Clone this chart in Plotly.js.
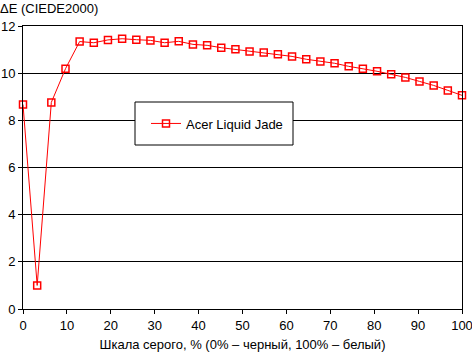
<!DOCTYPE html>
<html>
<head>
<meta charset="utf-8">
<script src="https://cdn.plot.ly/plotly-3.0.1.min.js"></script>
<style>html,body{margin:0;padding:0;background:#fff;}#chart{width:472px;height:352px;}</style>
</head>
<body>
<div id="chart"></div>
<script>
const seriesName = "Acer Liquid Jade";
const grayLevels = [0, 3.23, 6.45, 9.68, 12.9, 16.13, 19.35, 22.58, 25.81, 29.03, 32.26, 35.48, 38.71, 41.94, 45.16, 48.39,
  51.61, 54.84, 58.06, 61.29, 64.52, 67.74, 70.97, 74.19, 77.42, 80.65, 83.87, 87.1, 90.32, 93.55, 96.77, 100];
const deltaE = [8.67, 1.0, 8.76, 10.19, 11.34, 11.29, 11.41, 11.46, 11.42, 11.39, 11.29, 11.35, 11.22, 11.18, 11.08, 11.01,
  10.92, 10.88, 10.80, 10.71, 10.59, 10.50, 10.42, 10.29, 10.19, 10.08, 9.95, 9.82, 9.65, 9.48, 9.27, 9.06];
const xTicks = [0, 10, 20, 30, 40, 50, 60, 70, 80, 90, 100];
const yTicks = [0, 2, 4, 6, 8, 10, 12];

const font = {family: "Liberation Sans, Arial, sans-serif", size: 13, color: "#000"};

// plot area in pixels: x 23..462, y 26..309
const L = 23, R = 10, T = 26, B = 43, W = 472, H = 352;
const pw = W - L - R, ph = H - T - B;
const px = v => (v - L) / pw;
const py = v => (H - B - v) / ph;

Plotly.newPlot("chart", [{
  x: grayLevels, y: deltaE, name: seriesName, type: "scatter", mode: "lines+markers",
  line: {color: "#ff0000", width: 1},
  marker: {symbol: "square-open", size: 7, color: "#ff0000", line: {width: 1.5, color: "#ff0000"}},
  showlegend: true, cliponaxis: false
}], {
  width: W, height: H,
  margin: {l: L, r: R, t: T, b: B, pad: 0},
  paper_bgcolor: "#fff", plot_bgcolor: "#fff",
  font: font,
  title: {text: "ΔE (CIEDE2000)", font: font, xref: "container", yref: "container", x: 0, xanchor: "left", y: 1 - 8/352, yanchor: "middle"},
  xaxis: {
    range: [0, 100], tickvals: xTicks, ticktext: xTicks.map(String), automargin: false,
    ticklabeloverflow: "allow",
    showgrid: false, zeroline: false, showline: true, linecolor: "#000", linewidth: 1, mirror: true,
    ticks: "outside", ticklen: 4, tickcolor: "#000", tickfont: font,
    title: {text: "Шкала серого, % (0% – черный, 100% – белый)", font: font, standoff: 8}
  },
  yaxis: {
    range: [0, 12], tickvals: yTicks, ticktext: yTicks.map(String), automargin: false,
    ticklabeloverflow: "allow",
    showgrid: true, gridcolor: "#000", gridwidth: 1, zeroline: false,
    showline: true, linecolor: "#000", linewidth: 1, mirror: true,
    ticks: "outside", ticklen: 4, tickcolor: "#000", tickfont: font
  },
  shapes: [{
    type: "rect", xref: "paper", yref: "paper", layer: "above",
    x0: px(135), x1: px(293), y0: py(145), y1: py(102),
    fillcolor: "#fff", line: {color: "#000", width: 1}
  }],
  legend: {
    x: px(146), y: py(123.5), xanchor: "left", yanchor: "middle", itemwidth: 30,
    bgcolor: "rgba(0,0,0,0)", borderwidth: 0, font: font
  },
  showlegend: true
}, {staticPlot: true});
</script>
</body>
</html>
